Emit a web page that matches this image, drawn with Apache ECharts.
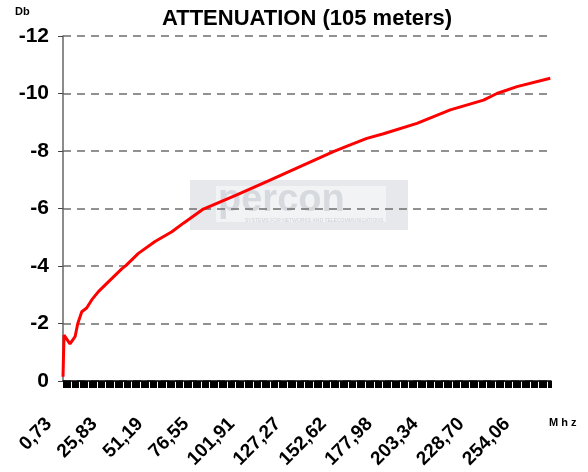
<!DOCTYPE html>
<html>
<head>
<meta charset="utf-8">
<script src="https://cdn.jsdelivr.net/npm/echarts@6/dist/echarts.min.js"></script>
<style>
html, body { margin: 0; padding: 0; background: #fff; }
#chart { width: 588px; height: 472px; }
</style>
</head>
<body>
<div id="chart"></div>
<script>
// frequency (MHz) and attenuation (dB)
var freqMHz = [0.73, 1.3, 1.84, 2.9, 4.6, 5.7, 7.4, 8.9, 11.1, 13.8, 16.6, 20.3, 25.8, 33.2, 35.6, 42.4, 51.6, 60.9, 67.3, 78.3, 96.8, 115.2, 133.6, 150.2, 159.5, 168.7, 177.9, 196.4, 214.8, 233.2, 240.6, 251.7, 270.1]
var attenDb = [-0.15, -1.6, -1.6, -1.45, -1.29, -1.35, -1.54, -2.0, -2.41, -2.54, -2.82, -3.11, -3.45, -3.9, -4.02, -4.44, -4.85, -5.19, -5.49, -5.98, -6.47, -6.99, -7.51, -7.98, -8.21, -8.44, -8.6, -8.96, -9.43, -9.77, -10.0, -10.24, -10.53]
// x tick labels as printed on the chart
var tickValues = [0.73, 25.83, 51.19, 76.55, 101.91, 127.27, 152.62, 177.98, 203.34, 228.70, 254.06]
var tickLabels = ['0,73', '25,83', '51,19', '76,55', '101,91', '127,27', '152,62', '177,98', '203,34', '228,70', '254,06']

var points = freqMHz.map(function (f, i) { return [f, attenDb[i]] })
var font = '"Liberation Sans", Arial, sans-serif'

var chart = echarts.init(document.getElementById('chart'))
chart.setOption({
	animation: false,
	title: {
		text: 'ATTENUATION (105 meters)',
		left: 302,
		top: 3,
		textAlign: 'center',
		textStyle: { fontFamily: font, fontSize: 22, fontWeight: 'bold', color: '#000' }
	},
	grid: { left: 63, right: 37, top: 36, bottom: 91 },
	graphic: [
		{
			type: 'group', left: 190, top: 180, z: -5,
			children: [
				{ type: 'rect', shape: { x: 0, y: 0, width: 218, height: 50 }, style: { fill: '#e6e8eb' }, z: -5 },
				{ type: 'rect', shape: { x: 26, y: 6, width: 170, height: 36 }, style: { fill: '#f2f3f5' }, z: -5 },
				{ type: 'text', x: 28, y: 2, z: -4, style: { text: 'percon', fontFamily: font, fontSize: 38, fontWeight: 'bold', fill: '#d6d9de' } },
				{ type: 'text', x: 55, y: 38, z: -4, style: { text: 'SYSTEMS FOR NETWORKS AND TELECOMMUNICATIONS', fontFamily: font, fontSize: 5, fill: '#cdd1d6' } }
			]
		},
		{ type: 'text', left: 15, top: 6, style: { text: 'Db', fontFamily: font, fontSize: 11, fontWeight: 'bold', fill: '#000' } },
		{ type: 'text', left: 549, top: 417, style: { text: 'M h z', fontFamily: font, fontSize: 11, fontWeight: 'bold', fill: '#000' } }
	],
	xAxis: [
		{
			type: 'value',
			min: 0.73,
			max: 270.5,
			axisLine: { show: true, onZero: false, lineStyle: { color: '#000', width: 1.5 } },
			axisTick: { show: false },
			splitLine: { show: false },
			axisLabel: {
				customValues: tickValues,
				rotate: 45,
				margin: 26,
				padding: [0, 20, 0, 0],
				fontFamily: font,
				fontSize: 19,
				fontWeight: 'bold',
				color: '#000',
				formatter: function (v) {
					var k = tickValues.indexOf(v)
					return k >= 0 ? tickLabels[k] : ''
				}
			}
		},
		{
			// dense tick band under the axis
			type: 'value',
			position: 'bottom',
			min: 0.73,
			max: 270.5,
			splitNumber: 50,
			axisLine: { show: false },
			axisLabel: { show: false },
			splitLine: { show: false },
			axisTick: { show: true, length: 7, lineStyle: { color: '#000', width: 1 } },
			minorTick: { show: true, splitNumber: 8, length: 7, lineStyle: { color: '#000', width: 1 } }
		}
	],
	yAxis: {
		type: 'value',
		min: -12,
		max: 0,
		interval: 2,
		inverse: true,
		axisLine: { show: true, lineStyle: { color: '#666', width: 1.5 } },
		axisTick: { show: true, length: 5, lineStyle: { color: '#444' } },
		axisLabel: {
			margin: 14,
			fontFamily: font,
			fontSize: 21,
			fontWeight: 'bold',
			color: '#000'
		},
		splitLine: { show: true, lineStyle: { color: '#6e6e6e', width: 1.5, type: [8, 6] } }
	},
	series: [{
		type: 'line',
		xAxisIndex: 0,
		data: points,
		showSymbol: false,
		smooth: false,
		lineStyle: { color: '#ff0000', width: 3 },
		z: 5
	}]
})
</script>
</body>
</html>
